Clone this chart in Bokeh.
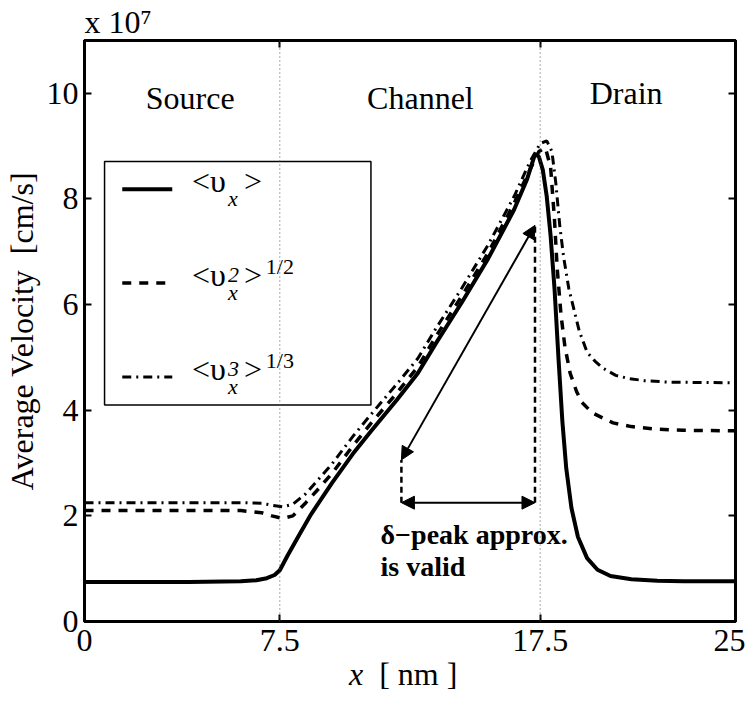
import numpy as np
from bokeh.plotting import figure
from bokeh.layouts import column
from bokeh.models import (Range1d, LinearAxis, FixedTicker, Label, Arrow, NormalHead,
                          Span, BoxAnnotation, CustomJSTickFormatter, Title, Div)
from bokeh.embed import file_html
from bokeh.resources import INLINE

# ---------------- data (velocity in units of 1e7 cm/s, x in nm) ----------------
x_v1 = [0, 2, 4, 6, 6.6, 7.0, 7.3, 7.5, 7.8, 8.2, 8.7, 9.5, 10.3, 11.0, 12.0, 12.8, 13.5,
        14.5, 15.5, 16.5, 17.0, 17.3, 17.45, 17.6, 17.75, 17.9, 18.05, 18.2, 18.35, 18.5,
        18.7, 18.95, 19.3, 19.7, 20.2, 21.0, 22.0, 23.0, 25.0]
v1 = [0.75, 0.75, 0.75, 0.76, 0.78, 0.82, 0.88, 0.97, 1.25, 1.6, 2.03, 2.62, 3.17, 3.6, 4.2,
      4.7, 5.27, 6.05, 6.87, 7.8, 8.38, 8.85, 8.8, 8.55, 8.05, 7.3, 6.3, 5.0, 3.8, 2.9,
      2.15, 1.6, 1.2, 0.98, 0.86, 0.8, 0.77, 0.76, 0.76]

x_v2 = [0, 2, 4, 6, 6.8, 7.2, 7.6, 8.0, 8.5, 9.0, 9.5, 10.3, 11.0, 12.0, 12.8, 13.5, 14.5,
        15.5, 16.5, 17.1, 17.45, 17.7, 17.9, 18.05, 18.15, 18.3, 18.45, 18.65, 18.9, 19.1,
        19.5, 20.3, 21.0, 22.0, 23.0, 25.0]
v2 = [2.1, 2.1, 2.1, 2.1, 2.06, 2.0, 1.95, 2.0, 2.25, 2.52, 2.8, 3.32, 3.75, 4.33, 4.82,
      5.4, 6.17, 6.98, 7.92, 8.55, 8.9, 8.97, 8.6, 7.6, 6.7, 5.8, 5.2, 4.7, 4.35, 4.15,
      3.95, 3.76, 3.69, 3.64, 3.62, 3.61]

x_v3 = [0, 2, 4, 6, 6.8, 7.2, 7.6, 8.0, 8.5, 9.0, 9.5, 10.3, 11.0, 12.0, 12.8, 13.5, 14.5,
        15.5, 16.5, 17.1, 17.5, 17.75, 17.95, 18.1, 18.25, 18.4, 18.6, 18.8, 19.0, 19.3,
        19.6, 19.9, 20.4, 20.9, 21.5, 22.5, 25.0]
v3 = [2.25, 2.25, 2.25, 2.25, 2.24, 2.2, 2.17, 2.22, 2.42, 2.7, 2.98, 3.5, 3.92, 4.5, 4.98,
      5.55, 6.32, 7.13, 8.05, 8.7, 9.05, 9.1, 8.9, 8.3, 7.5, 6.9, 6.3, 5.9, 5.5, 5.1,
      4.93, 4.8, 4.66, 4.6, 4.56, 4.53, 4.52]

x_ticks = [0, 7.5, 17.5, 25]
y_ticks = [0, 2, 4, 6, 8, 10]
boundaries = [7.5, 17.5]
region_names = ["Source", "Channel", "Drain"]
region_x = [4.06, 12.9, 20.8]
region_y = [9.58, 9.58, 9.66]

# annotation geometry (data units)
delta_left_x = 12.17
delta_right_x = 17.3
delta_arrow_lo_y = 3.06
delta_arrow_hi_y = 7.5
delta_bar_y = 2.25

FONT = "Liberation Serif"
FS = "32px"
FS_SMALL = "22px"

p = figure(width=745, height=668, x_range=Range1d(0, 25), y_range=Range1d(0, 11),
           output_backend="svg", toolbar_location=None,
           min_border_left=82, min_border_right=10, min_border_top=39, min_border_bottom=47)
p.grid.visible = False
p.outline_line_color = "black"
p.outline_line_width = 3
p.background_fill_color = "white"
p.border_fill_color = "white"

def style_axis(ax):
    ax.axis_line_width = 3
    ax.axis_line_color = "black"
    ax.major_tick_in = 7
    ax.major_tick_out = 0
    ax.major_tick_line_width = 2
    ax.major_tick_line_color = "black"
    ax.minor_tick_line_color = None
    ax.major_label_text_font = FONT
    ax.major_label_text_font_size = FS
    ax.major_label_text_color = "black"

xa = p.xaxis[0]
ya = p.yaxis[0]
xa.ticker = FixedTicker(ticks=x_ticks)
xa.formatter = CustomJSTickFormatter(code="return tick.toString();")
ya.ticker = FixedTicker(ticks=y_ticks)
ya.formatter = CustomJSTickFormatter(code="return tick.toString();")
style_axis(xa)
style_axis(ya)
xa.major_label_standoff = 8
ya.major_label_standoff = 6
ya.axis_label = "Average Velocity\u00a0 [cm/s]"
ya.axis_label_text_font = FONT
ya.axis_label_text_font_size = FS
ya.axis_label_text_font_style = "normal"
ya.axis_label_text_color = "black"
ya.axis_label_standoff = 4

top_ax = LinearAxis(ticker=FixedTicker(ticks=x_ticks),
                    formatter=CustomJSTickFormatter(code="return '';"))
right_ax = LinearAxis(ticker=FixedTicker(ticks=y_ticks),
                      formatter=CustomJSTickFormatter(code="return '';"))
for ax in (top_ax, right_ax):
    style_axis(ax)
    ax.major_label_standoff = 0
    ax.major_label_text_font_size = "0px"
p.add_layout(top_ax, "above")
p.add_layout(right_ax, "right")

# exponent title
p.title = Title(text="x 10\u2077", align="left", text_font=FONT, text_font_size=FS,
                text_font_style="normal", text_color="black", standoff=2, offset=0)

# region boundaries
for b in boundaries:
    p.add_layout(Span(location=b, dimension="height", line_color="#555555",
                      line_width=1, line_dash="1 3"))

# curves
p.line(x_v1, v1, line_color="black", line_width=4)
p.line(x_v2, v2, line_color="black", line_width=3.5, line_dash="9 8")
p.line(x_v3, v3, line_color="black", line_width=3, line_dash="9 5 2 5")

# delta-peak annotation
p.line([delta_left_x, delta_left_x], [delta_bar_y, delta_arrow_lo_y],
       line_color="black", line_width=2.5, line_dash="6 4")
p.line([delta_right_x, delta_right_x], [delta_bar_y, delta_arrow_hi_y],
       line_color="black", line_width=2.5, line_dash="6 4")
def head():
    return NormalHead(size=13, fill_color="black", line_color="black", line_width=1)
p.add_layout(Arrow(x_start=delta_left_x, y_start=delta_arrow_lo_y,
                   x_end=delta_right_x, y_end=delta_arrow_hi_y,
                   start=head(), end=head(), line_width=2, line_color="black"))
p.add_layout(Arrow(x_start=delta_left_x, y_start=delta_bar_y,
                   x_end=delta_right_x, y_end=delta_bar_y,
                   start=head(), end=head(), line_width=2, line_color="black"))
p.add_layout(Label(x=11.37, y=1.36, text="δ−peak approx.", text_font=FONT,
                   text_font_size="28px", text_font_style="bold", text_color="black"))
p.add_layout(Label(x=11.37, y=0.74, text="is valid", text_font=FONT,
                   text_font_size="28px", text_font_style="bold", text_color="black"))

# region names
for nm, rx, ry in zip(region_names, region_x, region_y):
    p.add_layout(Label(x=rx, y=ry, text=nm, text_align="center", text_font=FONT,
                       text_font_size=FS, text_color="black"))

# ---------------- legend ----------------
dx = 25 / 653.0   # data per px
dy = 11 / 582.0
leg_left, leg_right, leg_top, leg_bottom = 0.77, 11.0, 8.71, 4.10
row_y = [8.185, 6.408, 4.631]
sample_x = [1.45, 3.37]
text_x = 4.13
p.add_layout(BoxAnnotation(left=leg_left, right=leg_right, top=leg_top, bottom=leg_bottom,
                           fill_color="white", fill_alpha=1.0, line_color="black",
                           line_alpha=1.0, line_width=1.5, level="underlay"))
styles = [dict(line_width=4), dict(line_width=3.5, line_dash="9 8"),
          dict(line_width=3, line_dash="9 5 2 5")]
sups = [None, ("2", "1/2"), ("3", "1/3")]
for ry, st, sp in zip(row_y, styles, sups):
    p.line(sample_x, [ry, ry], line_color="black", **st)
    base = ry - 10 * dy
    p.add_layout(Label(x=text_x, y=base, text="<υ", text_font=FONT, text_font_size=FS,
                       text_color="black"))
    p.add_layout(Label(x=text_x + 36 * dx, y=base - 12 * dy, text="x", text_font=FONT,
                       text_font_size=FS_SMALL, text_font_style="italic", text_color="black"))
    p.add_layout(Label(x=text_x + 52 * dx, y=base, text=">", text_font=FONT,
                       text_font_size=FS, text_color="black"))
    if sp:
        p.add_layout(Label(x=text_x + 36 * dx, y=base + 11 * dy, text=sp[0],
                           text_font=FONT, text_font_size=FS_SMALL,
                           text_font_style="italic", text_color="black"))
        p.add_layout(Label(x=text_x + 74 * dx, y=base + 14 * dy, text=sp[1],
                           text_font=FONT, text_font_size=FS_SMALL, text_color="black"))

# x-axis label (italic x + upright unit) as HTML text below the figure
xlabel = Div(text=('<div style="position:relative;top:-10px;left:349px;white-space:nowrap;'
                   'font-family:\'Liberation Serif\';font-size:32px;line-height:32px;color:black;">'
                   '<i>x</i>&nbsp;&nbsp;[ nm ]</div>'),
             width=745, height=20, margin=(0, 0, 0, 0))

layout = column(p, xlabel, spacing=0)
open("out.html", "w").write(file_html(layout, INLINE))
